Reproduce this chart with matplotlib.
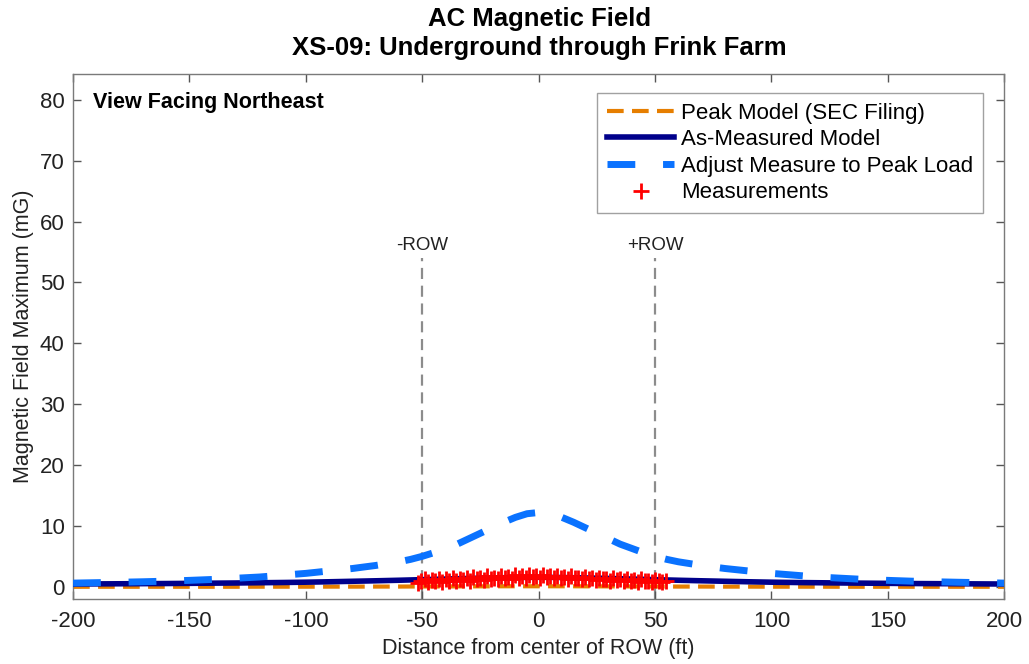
import matplotlib
matplotlib.use("Agg")
import matplotlib.pyplot as plt
import numpy as np

plt.rcParams['font.family'] = ['Liberation Sans', 'DejaVu Sans']
plt.rcParams['axes.unicode_minus'] = False

# Distance from ROW centre (ft) for the modelled profiles
half_dist = [-200, -190, -180, -170, -160, -150, -140, -130, -120, -110,
             -100, -90, -80, -70, -60, -55, -50, -45, -40, -35,
             -30, -25, -20, -15, -10, -5]
distance = half_dist + [0] + [-d for d in half_dist[::-1]]

half_adjusted = [0.60, 0.67, 0.74, 0.82, 0.92, 1.05, 1.20, 1.40, 1.60, 1.90,
                 2.20, 2.60, 3.00, 3.50, 4.10, 4.50, 5.00, 5.60, 6.30, 7.00,
                 7.90, 8.80, 9.70, 10.60, 11.40, 12.00]
adjusted_peak = half_adjusted + [12.20] + half_adjusted[::-1]

half_measured = [0.45, 0.47, 0.49, 0.51, 0.53, 0.56, 0.59, 0.62, 0.66, 0.70,
                 0.75, 0.82, 0.90, 0.98, 1.07, 1.12, 1.17, 1.22, 1.27, 1.32,
                 1.37, 1.41, 1.45, 1.49, 1.52, 1.54]
as_measured = half_measured + [1.55] + half_measured[::-1]

half_peak = [0.00, 0.00, 0.00, 0.00, 0.00, 0.00, 0.00, 0.00, 0.01, 0.01,
             0.01, 0.02, 0.02, 0.03, 0.03, 0.04, 0.04, 0.05, 0.05, 0.06,
             0.06, 0.07, 0.07, 0.08, 0.08, 0.08]
peak_model = half_peak + [0.08] + half_peak[::-1]

# Field survey readings across the ROW
meas_x = [-52.0, -50.5, -49.0, -47.5, -46.0, -44.5, -43.0, -41.5, -40.0, -38.5,
          -37.0, -35.5, -34.0, -32.5, -31.0, -29.5, -28.0, -26.5, -25.0, -23.5,
          -22.0, -20.5, -19.0, -17.5, -16.0, -14.5, -13.0, -11.5, -10.0, -8.5,
          -7.0, -5.5, -4.0, -2.5, -1.0, 0.5, 2.0, 3.5, 5.0, 6.5,
          8.0, 9.5, 11.0, 12.5, 14.0, 15.5, 17.0, 18.5, 20.0, 21.5,
          23.0, 24.5, 26.0, 27.5, 29.0, 30.5, 32.0, 33.5, 35.0, 36.5,
          38.0, 39.5, 41.0, 42.5, 44.0, 45.5, 47.0, 48.5, 50.0, 51.5,
          53.0, 54.5]
meas_y = [0.6, 0.9, 1.2, 0.8, 1.1, 0.9, 1.3, 0.8, 1.2, 1.0,
          1.4, 0.9, 1.3, 1.1, 1.5, 1.0, 1.6, 1.2, 1.4, 1.1,
          1.7, 1.3, 1.5, 1.2, 1.8, 1.4, 1.6, 1.3, 1.9, 1.5,
          1.7, 1.4, 1.9, 1.6, 1.8, 1.5, 1.9, 1.6, 1.7, 1.4,
          1.8, 1.5, 1.6, 1.3, 1.7, 1.4, 1.5, 1.2, 1.6, 1.3,
          1.4, 1.1, 1.5, 1.2, 1.3, 1.0, 1.4, 1.1, 1.2, 0.9,
          1.3, 1.0, 1.1, 0.8, 1.2, 0.9, 1.0, 0.8, 1.1, 0.9,
          0.8, 1.0]

row_edges = [-50, 50]
row_labels = ['-ROW', '+ROW']

fig = plt.figure(figsize=(10.29, 6.64), dpi=100)
ax = fig.add_axes([0.071, 0.098, 0.905, 0.791])

axis_gray = '#555555'

# Right-of-way edges
for xe, lab in zip(row_edges, row_labels):
    ax.plot([xe, xe], [-2, 54], color='#8c8c8c', lw=1.6, dashes=(5, 3), zorder=1)
    ax.text(xe, 54.6, lab, ha='center', va='bottom', fontsize=13.5, color='#222222')

ax.plot(distance, peak_model, color='#e67e00', lw=3, dashes=(4, 2),
        label='Peak Model (SEC Filing)', zorder=2)
ax.plot(distance, as_measured, color='#00008b', lw=4,
        label='As-Measured Model', zorder=3)
ax.plot(distance, adjusted_peak, color='#0a72ff', lw=5, dashes=(4, 4),
        label='Adjust Measure to Peak Load', zorder=4)
ax.plot(meas_x, meas_y, linestyle='none', marker='+', color='#ff0000',
        markersize=11, markeredgewidth=2, label='Measurements', zorder=5)

ax.set_xlim(-200, 200)
ax.set_ylim(-2, 84.3)
ax.set_xticks(np.arange(-200, 201, 50))
ax.set_yticks(np.arange(0, 81, 10))
ax.tick_params(direction='in', length=6, width=1, colors=axis_gray,
               labelcolor='#222222', labelsize=16, top=True, right=True)
ax.tick_params(axis='x', pad=9)
ax.tick_params(axis='y', pad=6)
for sp in ax.spines.values():
    sp.set_color('#7a7a7a')
    sp.set_linewidth(1)

ax.set_xlabel('Distance from center of ROW (ft)', fontsize=15.5, color='#222222', labelpad=4)
ax.set_ylabel('Magnetic Field Maximum (mG)', fontsize=15.5, color='#222222', labelpad=4)

ax.text(0.021, 0.965, 'View Facing Northeast', transform=ax.transAxes,
        ha='left', va='top', fontsize=15.5, fontweight='bold')

fig.text(0.524, 0.99, 'AC Magnetic Field\nXS-09: Underground through Frink Farm',
         ha='center', va='top', fontsize=18.5, fontweight='bold', linespacing=1.3)

leg = ax.legend(loc='upper right', bbox_to_anchor=(0.977, 0.964), fontsize=16,
                frameon=True, fancybox=False, handlelength=3.0, handletextpad=0.3,
                labelspacing=0.25, borderpad=0.45, borderaxespad=0)
leg.get_frame().set_edgecolor('#8a8a8a')
leg.get_frame().set_linewidth(1)

fig.savefig('out.png', dpi=100, facecolor='white')
